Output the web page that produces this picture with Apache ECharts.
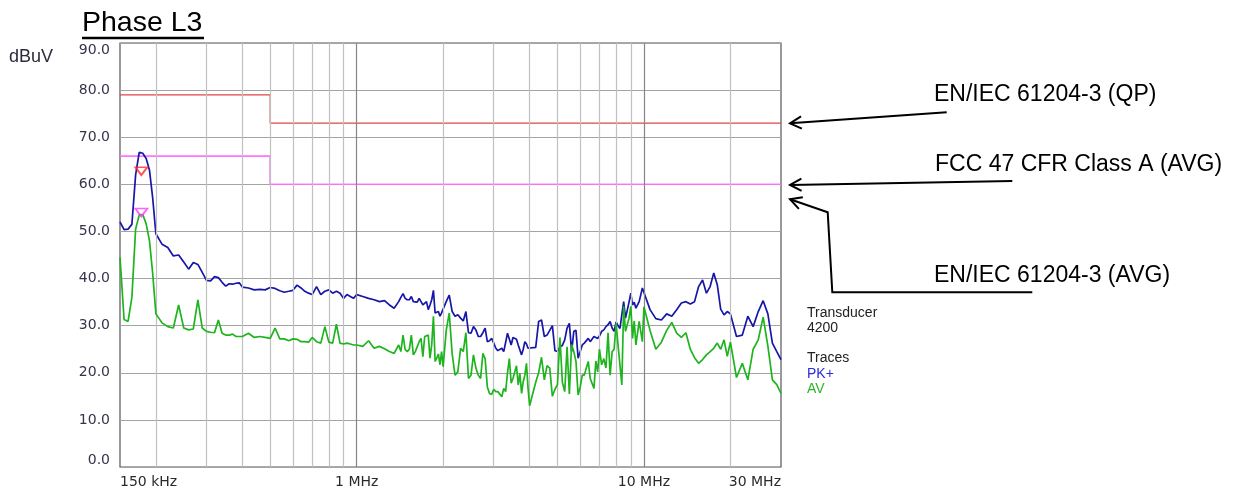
<!DOCTYPE html>
<html>
<head>
<meta charset="utf-8">
<script src="https://cdn.jsdelivr.net/npm/echarts@6/dist/echarts.min.js"></script>
<style>
  html, body { margin: 0; padding: 0; background: #fff; }
  #chart { width: 1244px; height: 488px; }
</style>
</head>
<body>
<div id="chart"></div>
<script>
// Sweep frequencies (MHz), shared by both detector traces
const freqMHz = [
  0.150, 0.155, 0.160, 0.165, 0.170, 0.175, 0.180, 0.185, 0.190, 0.195, 0.200,
  0.21, 0.22, 0.23, 0.24, 0.25, 0.26, 0.27, 0.28, 0.29, 0.30, 0.31, 0.32, 0.33, 0.34, 0.35, 0.36, 0.37, 0.38, 0.39, 0.40,
  0.42, 0.44, 0.46, 0.48, 0.50, 0.52, 0.54, 0.56, 0.58, 0.60, 0.62, 0.64, 0.66, 0.68, 0.70,
  0.725, 0.75, 0.775, 0.80, 0.825, 0.85, 0.875, 0.90, 0.925, 0.95, 0.975, 1.0,
  1.05, 1.10, 1.15, 1.20, 1.25, 1.30, 1.35, 1.40,
  1.425, 1.45, 1.475, 1.50, 1.525, 1.55, 1.575, 1.60, 1.625, 1.65, 1.675, 1.70,
  1.725, 1.75, 1.775, 1.80, 1.825, 1.85, 1.875, 1.90, 1.925, 1.95, 1.975, 2.00,
  2.05, 2.1, 2.15, 2.2, 2.25, 2.3, 2.35, 2.4, 2.45, 2.5, 2.55, 2.6, 2.65, 2.7, 2.75, 2.8, 2.85, 2.9, 2.95, 3.0,
  3.05, 3.1, 3.15, 3.2, 3.25, 3.3, 3.35, 3.4, 3.45, 3.5, 3.55, 3.6, 3.65, 3.7, 3.75, 3.8, 3.85, 3.9, 3.95, 4.0,
  4.2, 4.3, 4.4, 4.5, 4.6, 4.7, 4.8, 4.9, 5.0, 5.1, 5.2, 5.3, 5.4, 5.5, 5.6,
  5.7, 5.8, 5.9, 6.0, 6.1, 6.2, 6.3, 6.4, 6.5, 6.6, 6.7, 6.8, 6.9, 7.0,
  7.125, 7.25, 7.375, 7.5, 7.625, 7.75, 7.875, 8.0, 8.125, 8.25, 8.375, 8.5,
  8.625, 8.75, 8.875, 9.0, 9.125, 9.25, 9.375, 9.5, 9.625, 9.75, 9.875, 10,
  10.5, 11, 11.5, 12, 12.5, 13, 13.5, 14, 14.5, 15, 15.5, 16, 16.5, 17, 17.5, 18, 18.5, 19, 19.5, 20,
  21, 22, 23, 24, 25, 26, 27, 28, 29, 30
];

// Peak detector (PK+), dBuV
const pkTrace = [
  52.0, 50.4, 50.5, 51.5, 62.0, 66.8, 66.6, 65.5, 63.0, 57.0, 49.5,
  47.3, 46.6, 44.8, 45.0, 43.5, 42.0, 43.4, 43.0, 41.3, 39.6, 39.5, 40.4, 40.2, 39.2, 38.4, 38.9, 38.8, 39.0, 39.1, 38.2,
  38.0, 37.6, 37.7, 37.6, 38.1, 37.9, 37.4, 37.1, 37.3, 37.5, 38.6, 38.0, 37.3, 36.9, 36.6,
  38.3, 36.6, 37.3, 37.6, 36.9, 37.3, 36.9, 35.8, 36.6, 36.2, 35.8, 36.6,
  36.2, 35.8, 35.5, 35.1, 35.3, 34.4, 33.7, 35.1,
  36.0, 36.8, 35.8, 35.5, 35.5, 36.2, 35.1, 35.1, 35.0, 35.8, 35.5, 34.4,
  34.4, 35.1, 33.4, 34.4, 35.5, 37.5, 32.7, 33.0, 33.0, 32.0, 32.7, 32.7,
  35.1, 36.5, 33.0, 32.0, 32.3, 31.6, 31.0, 33.0, 28.5, 28.4, 29.8, 29.1, 27.7, 27.7, 28.5, 29.5, 26.6, 26.8, 27.3, 26.3,
  25.2, 24.7, 24.6, 25.2, 24.5, 24.7, 28.4, 28.2, 25.9, 27.5, 27.7, 27.1, 25.9, 26.0, 23.8, 25.0, 26.6, 26.1, 25.2, 24.9,
  25.4, 30.9, 31.2, 27.7, 28.0, 29.0, 30.0, 24.7, 24.5, 25.5, 25.8, 27.0, 29.5, 30.5, 24.5,
  28.8, 29.0, 23.1, 24.5, 25.9, 26.3, 26.6, 27.3, 26.6, 26.6, 27.7, 27.7, 27.3, 27.8,
  28.8, 29.1, 29.8, 30.2, 30.9, 29.5, 28.8, 30.8, 30.0, 29.4, 32.3, 35.1,
  31.6, 31.6, 35.0, 36.9, 34.4, 35.0, 33.7, 33.7, 35.1, 35.1, 38.0, 38.0,
  33.4, 31.5, 31.2, 32.5, 32.0, 33.4, 34.8, 35.1, 34.6, 35.1, 38.3, 39.7, 36.9, 38.3, 41.2, 38.7, 33.5, 32.3, 33.0, 32.5,
  27.7, 28.0, 32.0, 29.8, 33.0, 35.3, 32.5, 26.3, 24.5, 22.8
];

// Average detector (AV), dBuV
const avTrace = [
  44.5, 31.3, 30.9, 36.0, 50.5, 53.5, 53.6, 51.6, 48.0, 41.0, 32.5,
  30.6, 29.8, 29.5, 34.4, 29.5, 29.1, 29.3, 35.5, 29.5, 28.8, 28.6, 28.5, 31.2, 28.4, 28.0, 28.0, 28.2, 27.7, 27.7, 27.7,
  28.4, 27.5, 27.7, 27.5, 27.3, 29.5, 27.2, 27.2, 26.8, 27.2, 27.1, 26.6, 26.6, 26.5, 27.5,
  26.6, 26.3, 29.8, 26.5, 26.3, 30.3, 26.3, 26.1, 26.3, 26.1, 25.9, 25.9,
  25.6, 26.8, 25.2, 25.6, 25.1, 24.5, 24.1, 25.9,
  24.5, 28.0, 24.9, 24.5, 25.0, 28.0, 23.8, 24.5, 24.5, 26.6, 27.3, 23.4,
  27.7, 27.3, 28.0, 23.1, 26.0, 32.0, 22.4, 23.1, 24.0, 21.7, 24.5, 21.3,
  29.0, 32.7, 24.0, 19.5, 20.2, 25.2, 24.5, 28.5, 18.8, 19.5, 23.8, 21.0, 19.5, 18.8, 24.1, 23.0, 17.0, 15.6, 15.4, 16.5,
  16.0, 16.0, 16.0, 14.9, 16.7, 16.0, 20.0, 23.0, 17.8, 18.8, 18.8, 21.5, 17.4, 19.9, 15.6, 18.1, 19.5, 22.0, 16.7, 13.0,
  18.0, 20.0, 23.3, 18.5, 21.5, 21.0, 15.0, 16.5, 17.5, 27.5, 18.0, 16.0, 25.5, 15.5, 26.0,
  24.5, 22.4, 15.3, 17.0, 19.5, 19.5, 21.0, 22.4, 18.8, 19.0, 16.7, 22.5, 20.2, 25.0,
  21.7, 23.0, 21.0, 28.5, 19.5, 24.5, 25.0, 30.5, 25.9, 26.3, 17.4, 34.1,
  28.8, 28.4, 31.6, 34.1, 27.3, 31.0, 25.9, 25.5, 30.9, 30.5, 26.6, 34.0,
  29.0, 25.0, 26.5, 29.0, 30.7, 28.4, 27.5, 28.5, 25.0, 23.2, 22.0, 22.8, 23.8, 24.5, 25.2, 26.3, 25.0, 27.0, 23.5, 26.5,
  19.0, 22.0, 18.5, 25.0, 27.0, 31.8, 25.7, 18.5, 17.5, 15.6
];

// Limit lines (step at 500 kHz)
const limitFreq = [0.15, 0.5, 0.5, 30];
const qpLimit = [79, 79, 73, 73];          // EN/IEC 61204-3 (QP)
const fccAvgLimit = [66, 66, 60, 60];      // FCC 47 CFR Class A (AVG)
const iecAvgLimit = [66, 66, 60, 60];      // EN/IEC 61204-3 (AVG)

// Final measurement readings [MHz, dBuV]
const qpReading = [0.178, 62.8];
const avReading = [0.178, 54.0];

// Axis ticks
const freqLabels = [0.15, 1, 10, 30];
const minorFreqGrid = [0.2, 0.3, 0.4, 0.5, 0.6, 0.7, 0.8, 0.9, 2, 3, 4, 5, 6, 7, 8, 9, 20];
const decadeFreqGrid = [1, 10];

const pairs = (xs, ys) => xs.map((x, i) => [x, ys[i]]);
const fmtFreq = v => v < 1 ? Math.round(v * 1000) + ' kHz' : Math.round(v) + ' MHz';

// Arrow (path + open head) for the limit-line callouts
function arrow(points) {
  const n = points.length;
  const tip = points[n - 1], prev = points[n - 2];
  const dx = prev[0] - tip[0], dy = prev[1] - tip[1];
  const len = Math.hypot(dx, dy), ux = dx / len, uy = dy / len;
  const a = 28 * Math.PI / 180, L = 13;
  const c = Math.cos(a), s = Math.sin(a);
  const h1 = [tip[0] + L * (ux * c - uy * s), tip[1] + L * (ux * s + uy * c)];
  const h2 = [tip[0] + L * (ux * c + uy * s), tip[1] + L * (-ux * s + uy * c)];
  return [
    { type: 'polyline', shape: { points }, style: { stroke: '#000', lineWidth: 2, fill: null } },
    { type: 'polyline', shape: { points: [h1, tip, h2] }, style: { stroke: '#000', lineWidth: 2, fill: null } }
  ];
}

const sans = '"Liberation Sans", Arial';
const annoFont = 23;
const chart = echarts.init(document.getElementById('chart'), null, { renderer: 'canvas' });

chart.setOption({
  animation: false,
  backgroundColor: '#fff',
  grid: {
    left: 120, right: 463, top: 43, bottom: 21,
    show: true, borderColor: '#555', borderWidth: 1.2,
    containLabel: false, outerBoundsMode: 'none'
  },
  legend: {
    data: [
      { name: 'PK+', textStyle: { color: '#2a2ad8' } },
      { name: 'AV', textStyle: { color: '#2cb52c' } }
    ],
    orient: 'vertical', left: 802, top: 367, padding: 0,
    icon: 'none', itemWidth: 0, itemHeight: 14, itemGap: 1,
    textStyle: { fontFamily: sans, fontSize: 14 },
    selectedMode: false
  },
  xAxis: {
    type: 'log', logBase: 10, min: 0.15, max: 30,
    axisLine: { show: false }, axisTick: { show: false },
    splitLine: { show: false }, minorSplitLine: { show: false },
    axisLabel: {
      customValues: freqLabels, formatter: fmtFreq,
      alignMinLabel: 'left', alignMaxLabel: 'right',
      margin: 8, fontFamily: '"DejaVu Sans"', fontSize: 14, color: '#2a2a2a'
    }
  },
  yAxis: {
    type: 'value', min: 0, max: 90, interval: 10,
    axisLine: { show: false }, axisTick: { show: false },
    splitLine: { show: true, lineStyle: { color: '#a4a4a4', width: 1.2 } },
    axisLabel: {
      formatter: v => v.toFixed(1), margin: 10,
      verticalAlignMinLabel: 'bottom', verticalAlignMaxLabel: 'top',
      fontFamily: '"DejaVu Sans"', fontSize: 14, color: '#34344a'
    }
  },
  series: [
    {
      name: 'EN/IEC 61204-3 (QP)', type: 'line', data: pairs(limitFreq, qpLimit),
      showSymbol: false, silent: true, z: 2,
      lineStyle: { color: '#e24545', width: 1.3 },
      markLine: {
        silent: true, symbol: ['none', 'none'], animation: false,
        label: { show: false },
        data: [
          ...minorFreqGrid.map(v => ({ xAxis: v, lineStyle: { color: '#c0c0c0', width: 1.2, type: 'solid' } })),
          ...decadeFreqGrid.map(v => ({ xAxis: v, lineStyle: { color: '#858585', width: 1.2, type: 'solid' } }))
        ]
      }
    },
    {
      name: 'FCC 47 CFR Class A (AVG)', type: 'line', data: pairs(limitFreq, fccAvgLimit),
      showSymbol: false, silent: true, z: 2,
      lineStyle: { color: '#ff6eff', width: 1.3 }
    },
    {
      name: 'EN/IEC 61204-3 (AVG)', type: 'line', data: pairs(limitFreq, iecAvgLimit),
      showSymbol: false, silent: true, z: 2,
      lineStyle: { color: '#ff6eff', width: 1.3 }
    },
    {
      name: 'PK+', type: 'line', data: pairs(freqMHz, pkTrace),
      showSymbol: false, silent: true, z: 4,
      lineStyle: { color: '#1616a8', width: 1.7 }
    },
    {
      name: 'AV', type: 'line', data: pairs(freqMHz, avTrace),
      showSymbol: false, silent: true, z: 5,
      lineStyle: { color: '#1eb41e', width: 1.7 }
    },
    {
      name: 'QP reading', type: 'scatter', data: [qpReading], z: 6, silent: true,
      symbol: 'triangle', symbolRotate: 180, symbolSize: [12, 8],
      itemStyle: { color: 'rgba(255,255,255,0)', borderColor: '#ff2a2a', borderWidth: 1.8 }
    },
    {
      name: 'AV reading', type: 'scatter', data: [avReading], z: 6, silent: true,
      symbol: 'triangle', symbolRotate: 180, symbolSize: [12, 8],
      itemStyle: { color: 'rgba(255,255,255,0)', borderColor: '#ff3cff', borderWidth: 1.8 }
    }
  ],
  graphic: [
    { type: 'text', x: 82, y: 23.5, style: { text: 'Phase L3', fontFamily: sans, fontSize: 28.5, fill: '#000', align: 'left', verticalAlign: 'middle' } },
    { type: 'line', shape: { x1: 82, y1: 38, x2: 204, y2: 38 }, style: { stroke: '#000', lineWidth: 2.5 } },
    { type: 'text', x: 9, y: 57, style: { text: 'dBuV', fontFamily: sans, fontSize: 18, fill: '#2b2b3b', align: 'left', verticalAlign: 'middle' } },
    { type: 'text', x: 807, y: 313.5, style: { text: 'Transducer', fontFamily: sans, fontSize: 14, fill: '#222', align: 'left', verticalAlign: 'middle' } },
    { type: 'text', x: 807, y: 328.5, style: { text: '4200', fontFamily: sans, fontSize: 14, fill: '#222', align: 'left', verticalAlign: 'middle' } },
    { type: 'text', x: 807, y: 358.5, style: { text: 'Traces', fontFamily: sans, fontSize: 14, fill: '#222', align: 'left', verticalAlign: 'middle' } },
    { type: 'text', x: 934, y: 94.5, style: { text: 'EN/IEC 61204-3 (QP)', fontFamily: sans, fontSize: annoFont, fill: '#000', align: 'left', verticalAlign: 'middle' } },
    { type: 'text', x: 935, y: 164.5, style: { text: 'FCC 47 CFR Class A (AVG)', fontFamily: sans, fontSize: annoFont, fill: '#000', align: 'left', verticalAlign: 'middle' } },
    { type: 'text', x: 934, y: 275.5, style: { text: 'EN/IEC 61204-3 (AVG)', fontFamily: sans, fontSize: annoFont, fill: '#000', align: 'left', verticalAlign: 'middle' } },
    ...arrow([[946.7, 112.3], [790, 123.3]]),
    ...arrow([[1012.3, 181], [790, 185]]),
    ...arrow([[1032.3, 292.3], [832.3, 292.3], [827.7, 212.3], [790, 199.3]])
  ]
});
</script>
</body>
</html>
